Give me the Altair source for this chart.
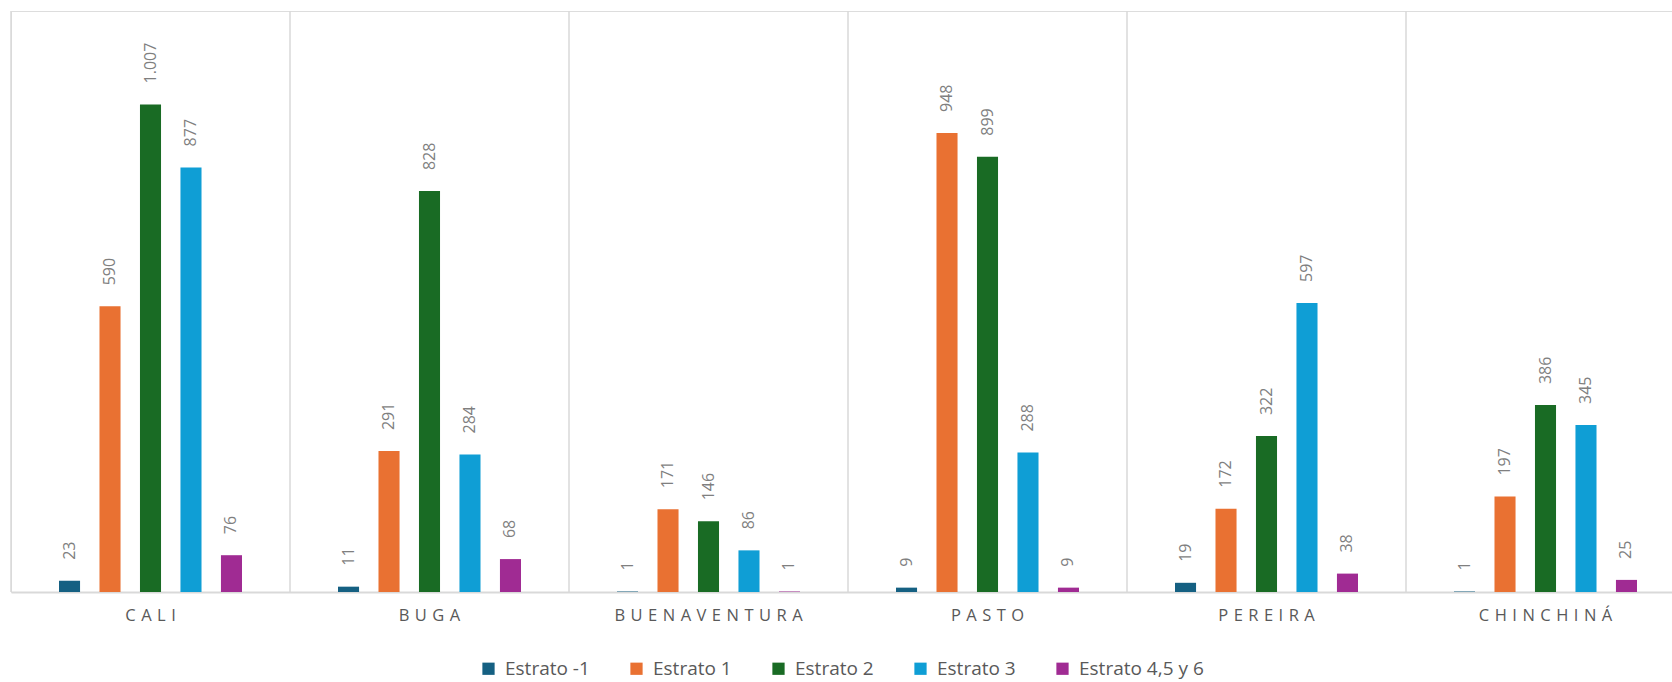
import altair as alt
import pandas as pd

cities = ["CALI", "BUGA", "BUENAVENTURA", "PASTO", "PEREIRA", "CHINCHINÁ"]
series = ["Estrato -1", "Estrato 1", "Estrato 2", "Estrato 3", "Estrato 4,5 y 6"]
colors = ["#156082", "#E97132", "#196B24", "#0F9ED5", "#A02B93"]

estrato_m1 = [23, 11, 1, 9, 19, 1]
estrato_1 = [590, 291, 171, 948, 172, 197]
estrato_2 = [1007, 828, 146, 899, 322, 386]
estrato_3 = [877, 284, 86, 288, 597, 345]
estrato_456 = [76, 68, 1, 9, 38, 25]

values = [estrato_m1, estrato_1, estrato_2, estrato_3, estrato_456]
rows = []
for s, vals in zip(series, values):
    for c, v in zip(cities, vals):
        rows.append({"city": c, "serie": s, "value": v})
df = pd.DataFrame(rows)

# letter-spaced category labels (as in the original, tracked uppercase)
SP = "\u2009\u2009"
city_df = pd.DataFrame({"city": cities, "label": [SP.join(list(c)) for c in cities]})

FONT = "Open Sans"
xscale = alt.Scale(domain=cities, range=[0, 1674], paddingInner=0, paddingOuter=0)
offscale = alt.Scale(domain=series, range=[48, 231], paddingInner=0.48, paddingOuter=0)
yscale = alt.Scale(domain=[0, 1200], nice=False)

base = alt.Chart(df)

grid = alt.Chart(city_df).mark_rule(
    color="#d9d9d9", strokeWidth=1.5
).encode(
    x=alt.X("city:N", sort=cities, scale=xscale, bandPosition=0,
            axis=alt.Axis(labels=False, ticks=False, grid=False, title=None,
                          domainColor="#d9d9d9", domainWidth=2))
)

bars = base.mark_bar().encode(
    x=alt.X("city:N", sort=cities, scale=xscale, title=None),
    xOffset=alt.XOffset("serie:N", sort=series, scale=offscale),
    y=alt.Y("value:Q", scale=yscale, axis=None),
    color=alt.Color("serie:N", sort=series,
                    scale=alt.Scale(domain=series, range=colors),
                    legend=alt.Legend(orient="none", legendX=468, legendY=648,
                                      direction="horizontal", title=None,
                                      symbolType="square", symbolSize=150,
                                      symbolStrokeWidth=0,
                                      labelFont=FONT, labelFontSize=19,
                                      labelColor="#595959", columnPadding=37,
                                      labelOffset=7)),
)

labels = base.transform_calculate(
    lbl="replace(format(datum.value, ','), ',', '.')"
).mark_text(
    angle=270, align="left", baseline="middle", dx=21,
    font=FONT, fontSize=16, color="#7f7f7f"
).encode(
    x=alt.X("city:N", sort=cities, scale=xscale, title=None),
    xOffset=alt.XOffset("serie:N", sort=series, scale=offscale),
    y=alt.Y("value:Q", scale=yscale),
    text="lbl:N",
)

city_labels = alt.Chart(city_df).mark_text(
    baseline="middle", align="center", font=FONT, fontSize=16.5, color="#595959"
).encode(
    x=alt.X("city:N", sort=cities, scale=xscale, title=None),
    y=alt.value(605),
    text="label:N",
)

chart = alt.layer(grid, bars, labels, city_labels).properties(
    width=1661, height=581,
    autosize=alt.AutoSizeParams(type="none"),
    padding={"left": 11, "top": 11, "right": 0, "bottom": 90},
).configure_view(stroke=None).configure(background="white")

chart.save("out.html", embed_options={"renderer": "svg", "actions": False})
